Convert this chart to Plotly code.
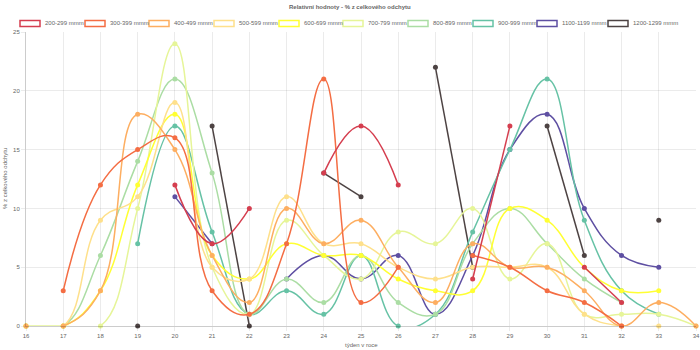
import plotly.graph_objects as go

weeks = list(range(16, 35))
series_names = ["200-299 mmm", "300-399 mmm", "400-499 mmm", "500-599 mmm", "600-699 mmm",
                "700-799 mmm", "800-899 mmm", "900-999 mmm", "1100-1199 mmm", "1200-1299 mmm"]
colors = ["#d53e4f", "#f46d43", "#fdae61", "#fee08b", "#ffff33",
          "#e6f598", "#abdda4", "#66c2a5", "#5e4fa2", "#4d4343"]

N = None
s200 = [N, N, N, N, 12, 7, 10, N, 13, 17, 12, N, 4, 17, N, 5, 2, N, N]
s300 = [N, 3, 12, 15, 16, 3, 1, 7, 21, 2, 5, N, 6, 5, 3, 2, 0, N, N]
s400 = [0, 0, 3, 18, 15, 6, 2, 10, 7, 9, 5, 2, 7, 5, 5, 3, 0, 2, 0]
s500 = [0, 0, 9, 11, 19, 5, 4, 11, 7, 7, 5, 4, 5, 5, 5, 1, 0, 0, N]
s600 = [0, 0, 3, 12, 18, 6, 4, 7, 6, 6, 4, 3, 3, 10, 9, 5, 3, 3, N]
s700 = [0, 0, 0, 10, 24, 5, 1, 9, 6, 4, 8, 7, 10, 4, 7, 1, 1, 1, 0]
s800 = [0, 0, 6, 14, 21, 13, 1, 4, 2, 6, 2, 1, 7, 10, 7, 4, 2, N, N]
s900 = [N, N, N, 7, 17, 8, 1, 3, 1, 6, 0, 1, 8, 15, 21, 9, 3, 1, N]
s1100 = [N, N, N, N, 11, 7, N, 4, 6, 4, 6, 1, 6, 15, 18, 10, 6, 5, N]
s1200 = [N, N, N, 0, N, 17, 0, N, 13, 11, N, 22, 5, N, 17, 6, N, 9, N]
all_series = [s200, s300, s400, s500, s600, s700, s800, s900, s1100, s1200]

title_text = "Relativní hodnoty - % z celkového odchytu"
x_title = "týden v roce"
y_title = "% z celkového odchytu"

FONT = "Liberation Sans, Arial, Helvetica, sans-serif"
TXT = "#666666"

fig = go.Figure()
# Chart.js draws first dataset on top -> add in reverse
for name, col, vals in reversed(list(zip(series_names, colors, all_series))):
    fig.add_trace(go.Scatter(x=weeks, y=vals, mode="lines", name=name,
                             line=dict(color=col, width=1.5, shape="spline", smoothing=1.2),
                             connectgaps=False, showlegend=False, hoverinfo="skip",
                             cliponaxis=True))
    fig.add_trace(go.Scatter(x=weeks, y=vals, mode="markers", name=name,
                             marker=dict(color=col, size=5, line=dict(width=0)),
                             showlegend=False, cliponaxis=False))

# plot area in pixels
L, R, T, B = 26, 4, 32, 24
W, H = 700, 350
pw, ph = W - L - R, H - T - B

def px2paper_x(px):
    return (px - L) / pw

def px2paper_y(py):
    return (H - B - py) / ph

shapes = []
annotations = []
box_left = [20, 85, 149, 214, 279, 343, 408, 473, 537, 608]
for bx, name, col in zip(box_left, series_names, colors):
    shapes.append(dict(type="rect", xref="paper", yref="paper",
                       x0=px2paper_x(bx), x1=px2paper_x(bx + 20),
                       y0=px2paper_y(26.5), y1=px2paper_y(20.5),
                       line=dict(color=col, width=1.5), fillcolor="rgba(255,255,255,0)"))
    annotations.append(dict(text=name, xref="paper", yref="paper",
                            x=px2paper_x(bx + 22.5), y=px2paper_y(23.5),
                            xanchor="left", yanchor="middle", showarrow=False,
                            font=dict(family=FONT, size=6, color=TXT)))

annotations.append(dict(text="<b>" + title_text + "</b>", xref="paper", yref="paper",
                        x=px2paper_x(350), y=px2paper_y(7), xanchor="center", yanchor="middle",
                        showarrow=False, font=dict(family=FONT, size=6, color=TXT)))
annotations.append(dict(text=x_title, xref="paper", yref="paper",
                        x=px2paper_x(361), y=px2paper_y(345), xanchor="center", yanchor="middle",
                        showarrow=False, font=dict(family=FONT, size=6, color=TXT)))
annotations.append(dict(text=y_title, xref="paper", yref="paper", textangle=-90,
                        x=px2paper_x(5), y=px2paper_y(179), xanchor="center", yanchor="middle",
                        showarrow=False, font=dict(family=FONT, size=6, color=TXT)))

fig.update_layout(
    width=W, height=H,
    margin=dict(l=L, r=R, t=T, b=B, pad=0),
    paper_bgcolor="white", plot_bgcolor="white",
    showlegend=False,
    font=dict(family=FONT, size=6, color=TXT),
    shapes=shapes, annotations=annotations,
    xaxis=dict(range=[16, 34], tickmode="linear", tick0=16, dtick=1,
               showgrid=True, gridcolor="rgba(0,0,0,0.08)", gridwidth=1,
               zeroline=False, showline=True, linecolor="rgba(0,0,0,0.2)", linewidth=1,
               ticks="outside", ticklen=4, tickcolor="rgba(0,0,0,0.08)",
               tickfont=dict(family=FONT, size=6, color=TXT), automargin=False, fixedrange=True),
    yaxis=dict(range=[0, 25], tickmode="linear", tick0=0, dtick=5,
               showgrid=True, gridcolor="rgba(0,0,0,0.08)", gridwidth=1,
               zeroline=False, showline=True, linecolor="rgba(0,0,0,0.2)", linewidth=1,
               ticks="outside", ticklen=4, tickcolor="rgba(0,0,0,0.08)",
               tickfont=dict(family=FONT, size=6, color=TXT), automargin=False, fixedrange=True),
)

fig.write_html("out.html", config={"displayModeBar": False})
